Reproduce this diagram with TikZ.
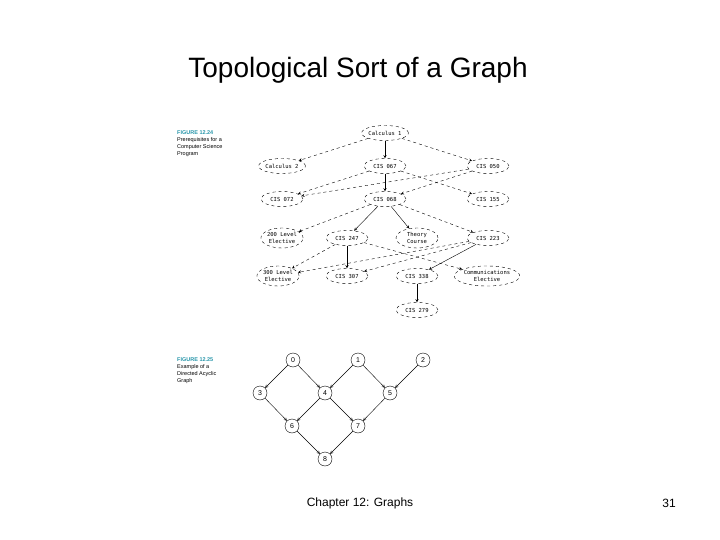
\documentclass[tikz,border=0pt]{standalone}
\usepackage{fontspec}
\setmainfont{Liberation Sans}
\setmonofont{DejaVu Sans Mono}
\usetikzlibrary{shapes.geometric}
\definecolor{figteal}{RGB}{40,150,170}
\begin{document}
\begin{tikzpicture}[x=1pt,y=-1pt,
    course/.style={draw,dashed,ellipse,minimum width=42pt,minimum height=15pt,inner sep=0pt,
                   font=\ttfamily\fontsize{5.5}{6.5}\selectfont,align=center},
    vert/.style={draw,circle,minimum size=14pt,inner sep=0pt,font=\fontsize{7}{7}\selectfont},
    req/.style={->,>=stealth,thin},
    opt/.style={req,dashed},
    figcap/.style={font=\fontsize{5.5}{7}\selectfont,align=left,anchor=north west,inner sep=0pt}]
    \useasboundingbox (0,0) rectangle (720,540);
    %title and footer
    \node (title) at (358,70) {\fontsize{28}{32}\selectfont Topological Sort of a Graph};
    \node (chap) at (360,503) {\fontsize{12}{14}\selectfont Chapter 12: Graphs};
    \node (page) at (669,503) {\fontsize{12}{14}\selectfont 31};
    %captions
    \node[figcap] (cap1) at (177,130) {\textcolor{figteal}{\textbf{FIGURE 12.24}}\\Prerequisites for a\\Computer Science\\Program};
    \node[figcap] (cap2) at (177,357) {\textcolor{figteal}{\textbf{FIGURE 12.25}}\\Example of a\\Directed Acyclic\\Graph};
    %prerequisite graph
    \node[course] (calc1) at (385,133) {Calculus 1};
    \node[course] (calc2) at (282,166) {Calculus 2};
    \node[course] (c067) at (385,166) {CIS 067};
    \node[course] (c050) at (488,166) {CIS 050};
    \node[course] (c072) at (282,199) {CIS 072};
    \node[course] (c068) at (385,199) {CIS 068};
    \node[course] (c155) at (488,199) {CIS 155};
    \node[course,minimum height=20pt] (e200) at (282,238) {200 Level\\Elective};
    \node[course] (c247) at (347,238) {CIS 247};
    \node[course,minimum height=20pt] (theory) at (417,238) {Theory\\Course};
    \node[course] (c223) at (488,238) {CIS 223};
    \node[course,minimum height=20pt] (e300) at (278,276) {300 Level\\Elective};
    \node[course] (c307) at (347,276) {CIS 307};
    \node[course] (c338) at (417,276) {CIS 338};
    \node[course,minimum height=20pt,minimum width=48pt] (comm) at (487,276) {Communications\\Elective};
    \node[course] (c279) at (417,310) {CIS 279};
    \draw[opt] (calc1) -- (calc2);
    \draw[req] (calc1) -- (c067);
    \draw[opt] (calc1) -- (c050);
    \draw[opt] (c067) -- (c072);
    \draw[req] (c067) -- (c068);
    \draw[opt] (c067) -- (c155);
    \draw[opt] (c050) -- (c072);
    \draw[opt] (c050) -- (c068);
    \draw[opt] (c068) -- (e200);
    \draw[req] (c068) -- (c247);
    \draw[req] (c068) -- (theory);
    \draw[opt] (c068) -- (c223);
    \draw[opt] (c247) -- (e300);
    \draw[req] (c247) -- (c307);
    \draw[opt] (c247) -- (comm);
    \draw[opt] (c223) -- (e300);
    \draw[opt] (c223) -- (c307);
    \draw[req] (c223) -- (c338);
    \draw[req] (c338) -- (c279);
    %DAG
    \foreach \n/\px/\py in {0/293/360,1/358/360,2/423/360,3/260/393,4/325/393,5/390/393,6/292/426,7/358/426,8/325/459}
      \node[vert] (v\n) at (\px,\py) {\n};
    \foreach \a/\b in {0/3,0/4,1/4,1/5,2/5,3/6,4/6,4/7,5/7,6/8,7/8}
      \draw[req] (v\a) -- (v\b);
\end{tikzpicture}
\end{document}
